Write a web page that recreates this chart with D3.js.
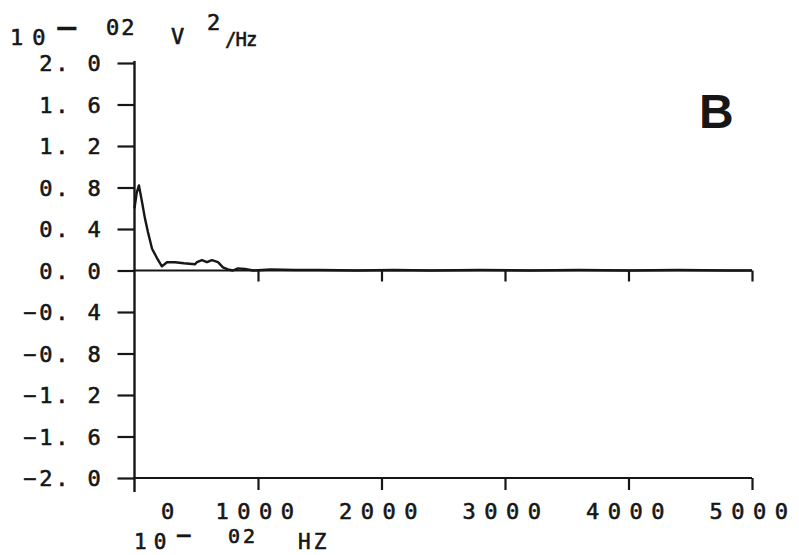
<!DOCTYPE html>
<html>
<head>
<meta charset="utf-8">
<script src="https://cdn.jsdelivr.net/npm/d3@7"></script>
<style>
  html, body { margin: 0; padding: 0; background: #fff; }
  svg { display: block; }
  text { font-family: "DejaVu Sans Mono", monospace; fill: #161616; }
  .mono { stroke: #161616; stroke-width: 0.6px; }
</style>
</head>
<body>
<script>
// ---- data ----
const freq  = [0, 18, 36, 61, 85, 109, 142, 182, 222, 263, 328, 400, 489, 506, 546, 587, 627, 676, 716, 756, 797, 837, 894, 959, 1100, 1300, 1500, 1800, 2100, 2400, 2800, 3200, 3600, 4000, 4400, 4800, 5000];
const power = [0.60, 0.75, 0.82, 0.66, 0.50, 0.37, 0.21, 0.12, 0.04, 0.08, 0.08, 0.07, 0.06, 0.08, 0.10, 0.08, 0.10, 0.08, 0.03, 0.01, 0.00, 0.02, 0.015, 0.00, 0.01, 0.005, 0.005, 0.00, 0.005, 0.00, 0.005, 0.00, 0.005, 0.00, 0.005, 0.00, 0.00];
const yTicks = [2.0, 1.6, 1.2, 0.8, 0.4, 0.0, -0.4, -0.8, -1.2, -1.6, -2.0];
const yTickLabels = ["2. 0", "1. 6", "1. 2", "0. 8", "0. 4", "0. 0", "\u22120. 4", "\u22120. 8", "\u22121. 2", "\u22121. 6", "\u22122. 0"];
const xTicks = [0, 1000, 2000, 3000, 4000, 5000];
const xTickLabels = ["0", "1000", "2000", "3000", "4000", "5000"];

const W = 799, H = 555;
const ink = "#161616";
const svg = d3.select("body").append("svg").attr("width", W).attr("height", H);

const x = d3.scaleLinear().domain([0, 5000]).range([134.5, 752]);
const y = d3.scaleLinear().domain([-2, 2]).range([478, 63]);

// y axis
const yAxis = d3.axisLeft(y).tickValues(yTicks).tickSize(17).tickPadding(14)
  .tickFormat((d, i) => yTickLabels[i]);
const gy = svg.append("g").attr("transform", `translate(${x(0)},0)`).call(yAxis);
gy.select(".domain").remove();
gy.selectAll(".tick line").attr("stroke", ink).attr("stroke-width", 2.2);
gy.selectAll(".tick text").attr("class", "mono").attr("font-size", 22).attr("letter-spacing", 2.8)
  .attr("font-family", "DejaVu Sans Mono").attr("fill", ink).attr("dy", "0.36em");
svg.append("line").attr("x1", x(0)).attr("x2", x(0))
  .attr("y1", y(2) - 2).attr("y2", y(-2) + 14).attr("stroke", ink).attr("stroke-width", 2.4);

// bottom axis at y = -2
const bAxis = d3.axisBottom(x).tickValues(xTicks.slice(1)).tickSize(12).tickFormat("");
const gb = svg.append("g").attr("transform", `translate(0,${y(-2)})`).call(bAxis);
gb.select(".domain").attr("stroke", ink).attr("stroke-width", 2.2)
  .attr("d", `M${x(0)},0H${x(5000)}`);
gb.selectAll(".tick line").attr("stroke", ink).attr("stroke-width", 2.2);

// zero line
const zAxis = d3.axisBottom(x).tickValues(xTicks.slice(1)).tickSize(11).tickFormat("");
const gz = svg.append("g").attr("transform", `translate(0,${y(0)})`).call(zAxis);
gz.select(".domain").attr("stroke", ink).attr("stroke-width", 2.2)
  .attr("d", `M${x(0)},0H${x(5000)}`);
gz.selectAll(".tick line").attr("stroke", ink).attr("stroke-width", 2.2);

// x tick labels
svg.append("g").selectAll("text").data(xTicks).join("text")
  .attr("class", "mono")
  .attr("x", (d, i) => i === 0 ? x(d) + 33 : x(d) + 1)
  .attr("y", 519)
  .attr("text-anchor", "middle")
  .attr("font-size", 22)
  .attr("letter-spacing", (d, i) => i === 0 ? 0 : 8.5)
  .text((d, i) => xTickLabels[i]);

// curve
const line = d3.line().x(d => x(d[0])).y(d => y(d[1]));
svg.append("path").datum(freq.map((f, i) => [f, power[i]]))
  .attr("d", line).attr("fill", "none").attr("stroke", ink)
  .attr("stroke-width", 2.4).attr("stroke-linejoin", "round");

// top unit label: 10^-02 V^2/Hz
const t = svg.append("g").attr("class", "mono");
t.append("text").attr("x", 10).attr("y", 45).attr("font-size", 22).attr("letter-spacing", 9).text("10");
t.append("text").attr("x", 56).attr("y", 40).attr("font-size", 36).text("\u2212");
t.append("text").attr("x", 106).attr("y", 35).attr("font-size", 22).attr("letter-spacing", 2).text("02");
t.append("text").attr("x", 171).attr("y", 44).attr("font-size", 22).text("V");
t.append("text").attr("x", 207).attr("y", 30).attr("font-size", 22).text("2");
t.append("text").attr("x", 225).attr("y", 46).attr("font-size", 19).attr("letter-spacing", -1).text("/Hz");

// bottom unit label: 10^-02 HZ
const b = svg.append("g").attr("class", "mono");
b.append("text").attr("x", 134).attr("y", 549).attr("font-size", 21).attr("letter-spacing", 7).text("10");
b.append("text").attr("x", 176).attr("y", 544).attr("font-size", 26).text("\u2212");
b.append("text").attr("x", 228).attr("y", 543).attr("font-size", 20).attr("letter-spacing", 3).text("02");
b.append("text").attr("x", 298).attr("y", 549).attr("font-size", 21).attr("letter-spacing", 3).text("HZ");

// panel letter
svg.append("text").attr("x", 699).attr("y", 128)
  .style("font-family", "'Liberation Sans', Arial, sans-serif")
  .attr("font-weight", "bold").attr("font-size", 48).text("B");
</script>
</body>
</html>
